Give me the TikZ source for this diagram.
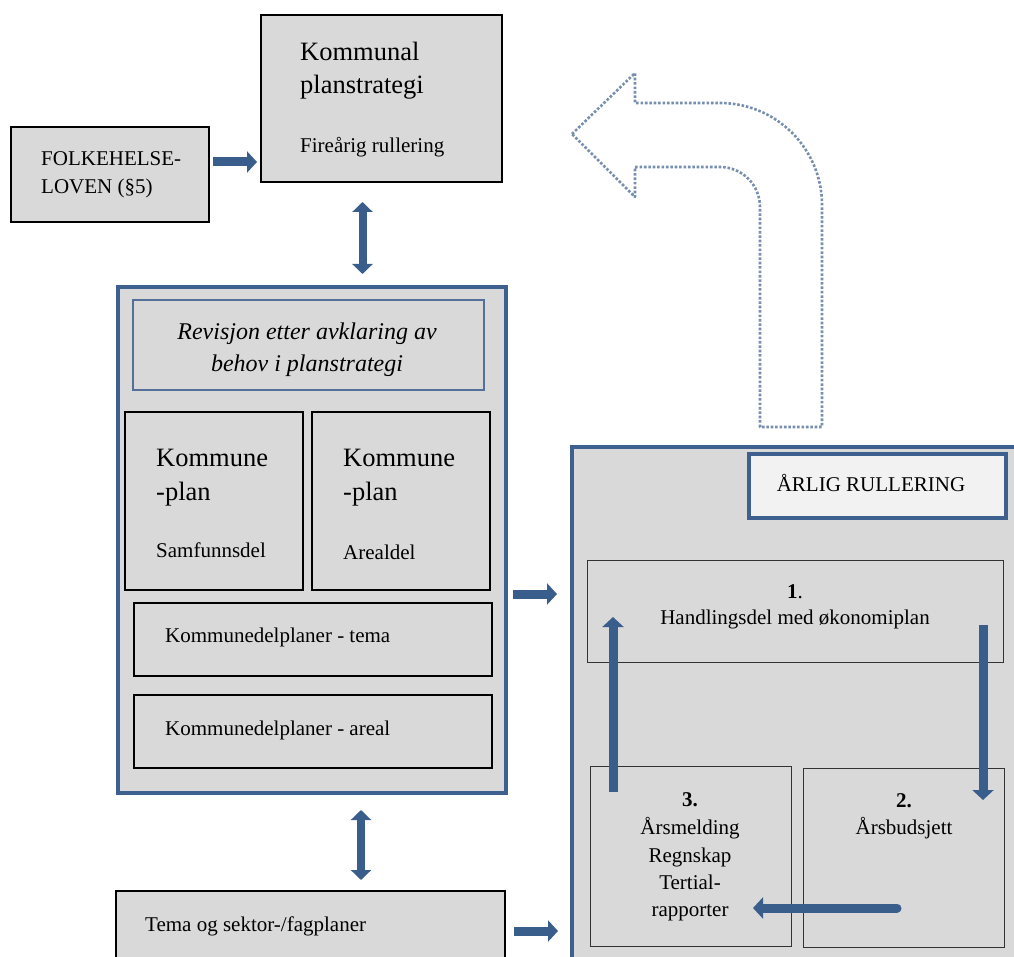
\documentclass[tikz,border=0pt]{standalone}
\usepackage{fontspec}
\setmainfont{Liberation Serif}
\usetikzlibrary{arrows.meta,fit,calc}
\definecolor{planblue}{RGB}{58,94,140}
\definecolor{frameblue}{RGB}{62,96,142}
\definecolor{softblue}{RGB}{84,112,152}
\definecolor{boxgray}{RGB}{217,217,217}
\definecolor{lightpanel}{RGB}{242,242,242}
\definecolor{dotblue}{RGB}{120,142,174}
\begin{document}
\begin{tikzpicture}[x=1pt,y=-1pt,
  panel/.style={fill=boxgray, draw=black, line width=2.2pt, inner sep=0pt, outer sep=0pt},
  thinpanel/.style={panel, draw=black!80, line width=1pt},
  bluepanel/.style={panel, draw=frameblue, line width=4pt},
  softpanel/.style={panel, draw=softblue, line width=2pt},
  body/.style={font=\fontsize{21}{25}\selectfont, inner sep=0pt},
  large/.style={font=\fontsize{26.5}{30}\selectfont, inner sep=0pt},
  slanted/.style={font=\fontsize{24}{28}\selectfont\itshape, inner sep=0pt},
  flow/.style={draw=planblue, line width=9pt, -{Triangle[width=21pt,length=10pt]}},
  twoway/.style={draw=planblue, line width=8pt,
    {Triangle[width=20pt,length=10pt]}-{Triangle[width=20pt,length=10pt]}},
]
\useasboundingbox (0,0) rectangle (1014,957);
\clip (0,0) rectangle (1014,957);

% ---- return arrow (dotted outline) ----
\draw[dotblue, line width=2.6pt, dash pattern=on 2.6pt off 1.8pt, line join=round]
  (572,134) -- (635,73) -- (635,103) -- (720,103)
  .. controls (776.3,103) and (822,148.7) .. (822,205)
  -- (822,427) -- (760,427) -- (760,207)
  .. controls (760,184.9) and (742.1,167) .. (720,167)
  -- (635,167) -- (635,197) -- cycle;

% ---- top: planstrategi ----
\node[panel, fit={(261,15) (502,182)}] (kps) {};
\node[large, anchor=base west] (kps-a) at (300,61) {Kommunal};
\node[large, anchor=base west] (kps-b) at (300,94) {planstrategi};
\node[body, anchor=base west] (kps-c) at (300,153) {Fireårig rullering};

\node[panel, fit={(11,127) (209,222)}] (folk) {};
\node[body, anchor=base west] (folk-a) at (41,166) {FOLKEHELSE-};
\node[body, anchor=base west] (folk-b) at (41,194) {LOVEN (§5)};

% ---- left: kommuneplan group ----
\node[bluepanel, fit={(118,287) (506,793)}] (group) {};
\node[softpanel, fit={(133,300) (484,390)}] (rev) {};
\node[slanted, anchor=base] (rev-a) at (307,339) {Revisjon etter avklaring av};
\node[slanted, anchor=base] (rev-b) at (307,371) {behov i planstrategi};

\node[panel, fit={(125,412) (303,590)}] (samf) {};
\node[large, anchor=base west] (samf-a) at (156,466) {Kommune};
\node[large, anchor=base west] (samf-b) at (156,500) {-plan};
\node[body, anchor=base west] (samf-c) at (156,557) {Samfunnsdel};

\node[panel, fit={(312,412) (490,590)}] (areal) {};
\node[large, anchor=base west] (areal-a) at (343,466) {Kommune};
\node[large, anchor=base west] (areal-b) at (343,500) {-plan};
\node[body, anchor=base west] (areal-c) at (343,559) {Arealdel};

\node[panel, line width=2.6pt, fit={(134,603) (492,676)}] (ktema) {};
\node[body, anchor=base west] (ktema-a) at (165,642) {Kommunedelplaner - tema};

\node[panel, line width=2.6pt, fit={(134,695) (492,768)}] (kareal) {};
\node[body, anchor=base west] (kareal-a) at (165,735) {Kommunedelplaner - areal};

\node[panel, fit={(116,891) (505,975)}] (sektor) {};
\node[body, anchor=base west] (sektor-a) at (145,931) {Tema og sektor-/fagplaner};

% ---- right: yearly cycle ----
\node[bluepanel, fit={(572,447) (1030,980)}] (cycle) {};
\node[bluepanel, fill=lightpanel, fit={(749,454) (1006,518)}] (aarlig) {};
\node[body, anchor=base] (aarlig-a) at (871,491) {ÅRLIG RULLERING};

\node[thinpanel, fit={(587,560) (1003,662)}] (hand) {};
\node[body, anchor=base] (hand-a) at (795,598) {\textbf{1}.};
\node[body, anchor=base] (hand-b) at (795,624) {Handlingsdel med økonomiplan};

\node[thinpanel, fit={(590,766) (791,946)}] (aars) {};
\node[body, anchor=base] (aars-a) at (690,806) {\textbf{3.}};
\node[body, anchor=base] (aars-b) at (690,834) {Årsmelding};
\node[body, anchor=base] (aars-c) at (690,862) {Regnskap};
\node[body, anchor=base] (aars-d) at (690,889) {Tertial-};
\node[body, anchor=base] (aars-e) at (690,916) {rapporter};

\node[thinpanel, fit={(803,768) (1004,947)}] (budsj) {};
\node[body, anchor=base] (budsj-a) at (904,807) {\textbf{2.}};
\node[body, anchor=base] (budsj-b) at (904,834) {Årsbudsjett};

% ---- connectors ----
\coordinate (lvl-folk) at (0,162);
\draw[flow] ($(folk.east |- lvl-folk)+(4,0)$) -- ($(kps.west |- lvl-folk)+(-4,0)$);

\coordinate (col-a) at (362.5,0);
\draw[twoway] ($(kps.south -| col-a)+(0,20)$) -- ($(group.north -| col-a)+(0,-13)$);

\coordinate (col-b) at (361,0);
\draw[twoway] ($(group.south -| col-b)+(0,17)$) -- ($(sektor.north -| col-b)+(0,-11)$);

\coordinate (lvl-group) at (0,594);
\draw[flow] ($(group.east |- lvl-group)+(7,0)$) -- ($(cycle.west |- lvl-group)+(-15,0)$);

\coordinate (lvl-sektor) at (0,931);
\draw[flow] ($(sektor.east |- lvl-sektor)+(9,0)$) -- ($(cycle.west |- lvl-sektor)+(-14,0)$);

\coordinate (col-up) at (613,0);
\draw[flow] ($(aars.north -| col-up)+(0,26)$) -- ($(hand.north -| col-up)+(0,57)$);

\coordinate (col-down) at (983,0);
\draw[flow] ($(hand.south -| col-down)+(0,-37)$) -- ($(budsj.north -| col-down)+(0,32)$);

\coordinate (lvl-back) at (0,908);
\draw[flow, line cap=round] ($(budsj.west |- lvl-back)+(94,0)$) -- ($(aars.east |- lvl-back)+(-38,0)$);
\end{tikzpicture}
\end{document}
